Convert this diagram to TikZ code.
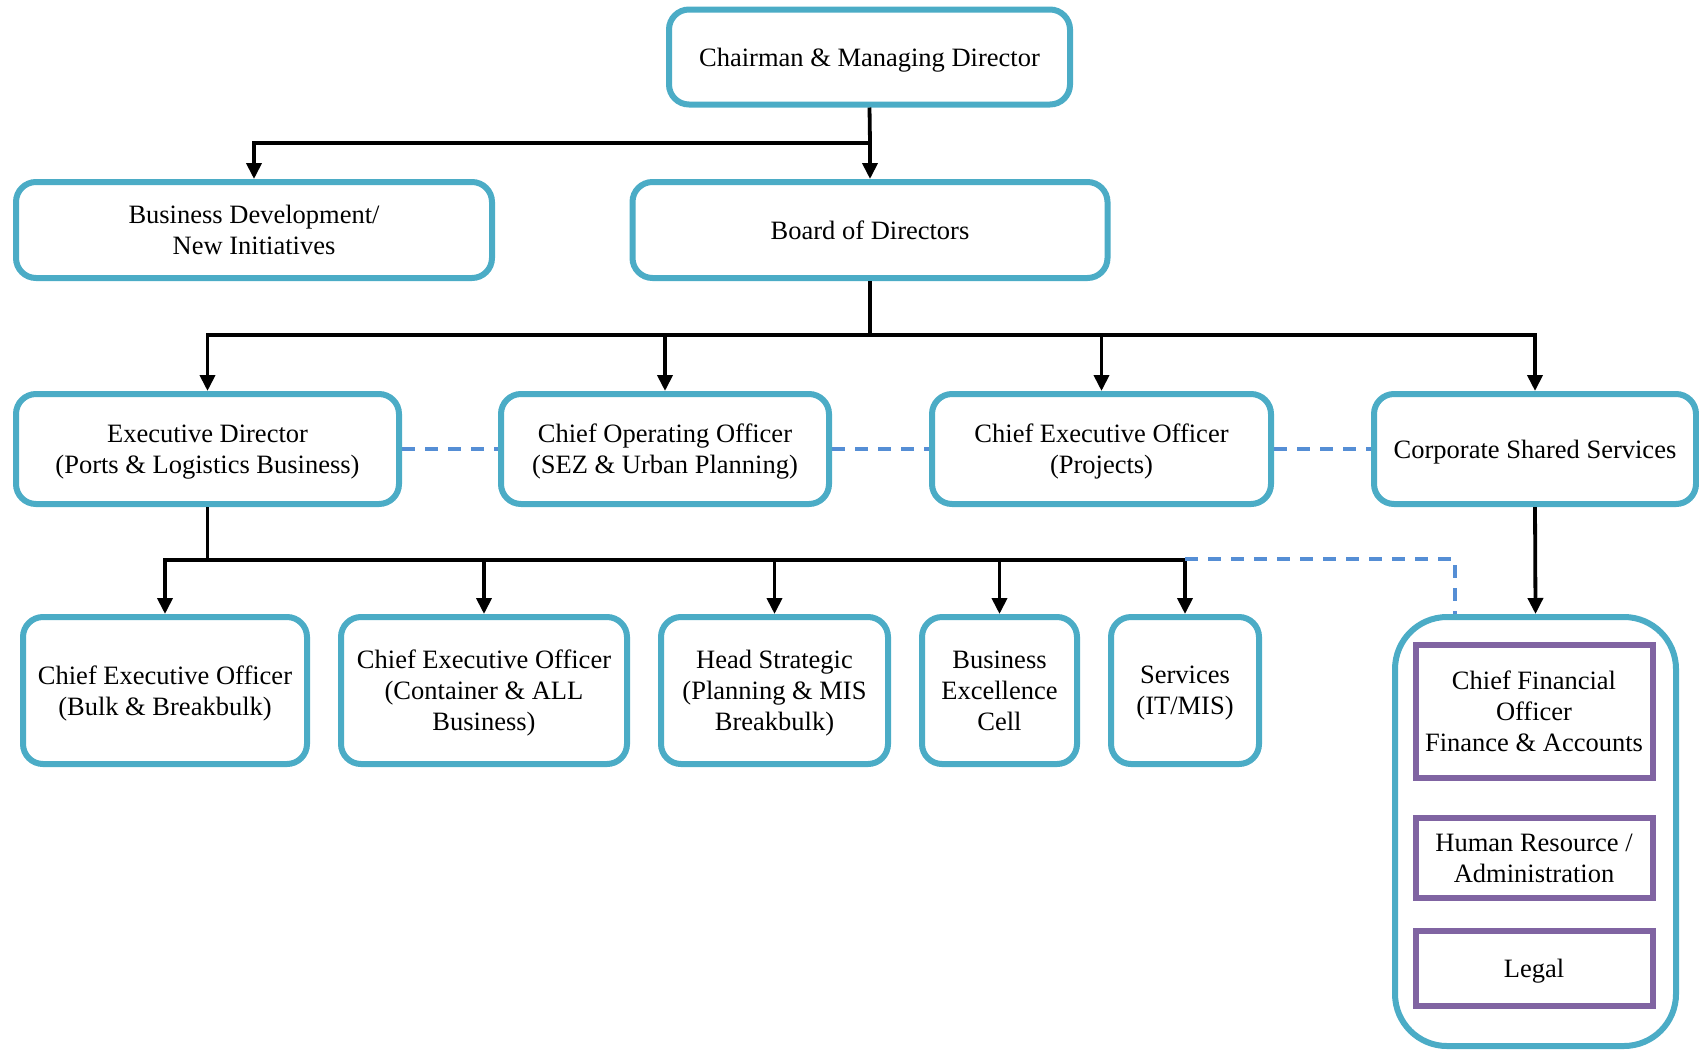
\documentclass[tikz,border=0pt]{standalone}
\usepackage{fontspec}
\setmainfont{Liberation Serif}
\usetikzlibrary{arrows.meta}
\definecolor{bbord}{HTML}{4BACC6}
\definecolor{pbord}{HTML}{8064A2}
\definecolor{dblue}{HTML}{558ED5}
\begin{document}
\begin{tikzpicture}[x=1pt,y=-1pt,
  box/.style={draw=bbord,line width=6pt,rounded corners=20pt,fill=white,align=center,
    inner sep=0pt,text depth=0pt,font=\fontsize{26.5}{31}\selectfont},
  pbox/.style={draw=pbord,line width=6pt,fill=white,align=center,inner sep=0pt,
    text depth=0pt,font=\fontsize{26.5}{31}\selectfont},
  conn/.style={line width=3.8pt,draw=black},
  arr/.style={conn,-{Triangle[length=16pt,width=15pt]}},
  dsh/.style={draw=dblue,line width=3.4pt,dash pattern=on 13pt off 10pt}]
\useasboundingbox (0,0) rectangle (1699,1050);
% top levels
\node[box,minimum width=401pt,minimum height=95pt] (chair) at (869.5,57) {Chairman \& Managing Director};
\node[box,minimum width=476pt,minimum height=96pt] (bizdev) at (254,230) {Business Development/\\New Initiatives};
\node[box,minimum width=475pt,minimum height=96pt] (board) at (870,230) {Board of Directors};
% row 3
\node[box,minimum width=383pt,minimum height=110pt] (ed) at (207.5,449) {Executive Director\\(Ports \& Logistics Business)};
\node[box,minimum width=328pt,minimum height=110pt] (coo) at (665,449) {Chief Operating Officer\\(SEZ \& Urban Planning)};
\node[box,minimum width=339pt,minimum height=110pt] (ceop) at (1101.5,449) {Chief Executive Officer\\(Projects)};
\node[box,minimum width=322pt,minimum height=110pt] (css) at (1535,449) {Corporate Shared Services};
% row 4
\node[box,minimum width=284pt,minimum height=147pt] (ceob) at (165,690.5) {Chief Executive Officer\\(Bulk \& Breakbulk)};
\node[box,minimum width=286pt,minimum height=147pt] (ceoc) at (484,690.5) {Chief Executive Officer\\(Container \& ALL\\Business)};
\node[box,minimum width=227pt,minimum height=147pt] (hs) at (774.5,690.5) {Head Strategic\\(Planning \& MIS\\Breakbulk)};
\node[box,minimum width=155pt,minimum height=147pt] (bec) at (999.5,690.5) {Business\\Excellence\\Cell};
\node[box,minimum width=148pt,minimum height=147pt] (svc) at (1185,690.5) {Services\\(IT/MIS)};
% corporate container
\node[box,rounded corners=52pt,minimum width=281pt,minimum height=429pt] (cont) at (1535.5,831.5) {};
\node[pbox,minimum width=237pt,minimum height=133pt] (cfo) at (1534,711) {Chief Financial\\Officer\\Finance \& Accounts};
\node[pbox,minimum width=237pt,minimum height=80pt] (hr) at (1534,858) {Human Resource /\\Administration};
\node[pbox,minimum width=237pt,minimum height=75pt] (legal) at (1534,968.5) {Legal};
% coordinates
\coordinate (j1) at (870,143);
\coordinate (j2) at (870,335);
\coordinate (j3) at (207.5,560);
\coordinate (dj) at (1185,559);
\coordinate (dk) at (1455,559);
% connectors level 1
\draw[conn] (chair.south) -- (j1);
\draw[arr] (j1) -| (bizdev.north);
\draw[arr] (j1) -- (board.north);
% level 2
\draw[conn] (board.south) -- (j2);
\draw[arr] (j2) -| (ed.north);
\draw[arr] (j2) -| (coo.north);
\draw[arr] (j2) -| (ceop.north);
\draw[arr] (j2) -| (css.north);
% dashed between row 3
\draw[dsh] (ed.east) -- (coo.west);
\draw[dsh] (coo.east) -- (ceop.west);
\draw[dsh] (ceop.east) -- (css.west);
% level 3
\draw[conn] (ed.south) -- (j3);
\draw[arr] (j3) -| (ceob.north);
\draw[arr] (j3) -| (ceoc.north);
\draw[arr] (j3) -| (hs.north);
\draw[arr] (j3) -| (bec.north);
\draw[arr] (j3) -| (svc.north);
% dashed to container
\draw[dsh] (dj) -- (dk) -- (dk |- cont.north);
% css to container
\draw[arr] (css.south) -- (cont.north);
\end{tikzpicture}
\end{document}
